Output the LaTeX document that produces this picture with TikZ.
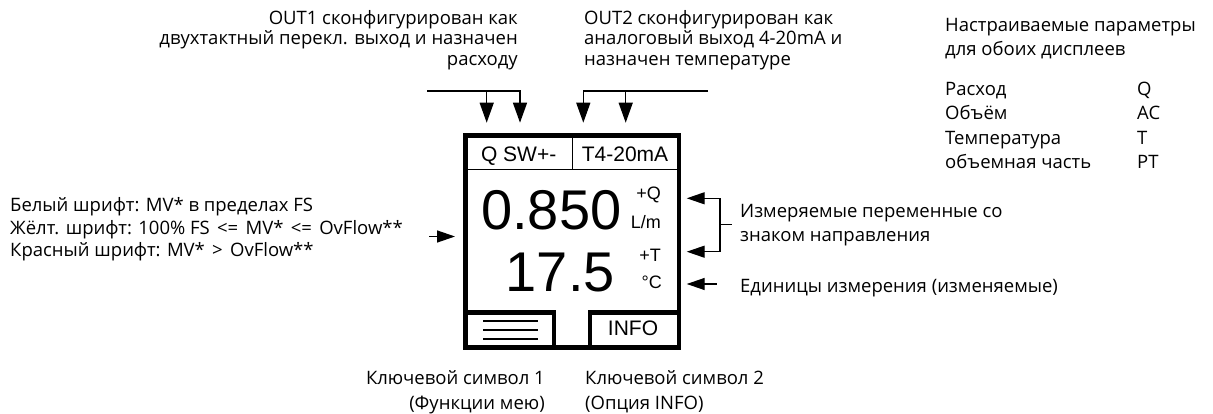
\documentclass[tikz,border=0pt]{standalone}
\usepackage{fontspec}
\setmainfont{Open Sans}
\newfontfamily\dispfont{Liberation Sans}
\usetikzlibrary{arrows.meta}
\newcommand{\opsp}{\hspace{2.5pt}}
\begin{document}
\begin{tikzpicture}[x=1pt,y=-1pt,
  ann/.style={inner sep=0pt, font=\fontsize{18.5}{24.5}\selectfont},
  anntop/.style={inner sep=0pt, font=\fontsize{18.5}{20.5}\selectfont},
  annleft/.style={inner sep=0pt, font=\fontsize{18.5}{22.7}\selectfont},
  lcd/.style={inner sep=0pt, font=\dispfont\fontsize{21}{25}\selectfont},
  lcdbig/.style={inner sep=0pt, font=\dispfont\fontsize{56}{60}\selectfont},
  lcdsmall/.style={inner sep=0pt, font=\dispfont\fontsize{18}{20}\selectfont},
  frame/.style={line width=4.8pt},
  thinline/.style={line width=1.1pt},
  bars/.style={line width=1.6pt},
  darr/.style={line width=1.3pt, -{Triangle[length=20pt,width=14pt]}},
  harr/.style={line width=1.3pt, -{Triangle[length=18pt,width=12pt]}},
  plain/.style={line width=1.3pt}
]
\useasboundingbox (0,0) rectangle (1213,414);

% ---- display frame ----
\draw[frame] (465.8,135.8) rectangle (679,347.5);
\draw[thinline] (465.8,169.3) -- (679,169.3);
\draw[thinline] (572.7,135.8) -- (572.7,169.3);
\draw[frame] (465.8,312.5) -| (554,347.5);
\draw[frame] (679,312.5) -| (590,347.5);
\draw[bars] (483.3,320.7) -- (537.7,320.7);
\draw[bars] (483.3,330) -- (537.7,330);
\draw[bars] (483.3,339) -- (537.7,339);

% ---- display texts ----
\node[lcd, anchor=base] (h1) at (518.7,162) {Q SW+-};
\node[lcd, anchor=base] (h2) at (625,162) {T4-20mA};
\node[lcdbig, anchor=base west] (v1) at (481,230) {0.850};
\node[lcdbig, anchor=base east] (v2) at (615,291.5) {17.5};
\node[lcdsmall, anchor=base east] (s1) at (661,200) {+Q};
\node[lcdsmall, anchor=base east] (s2) at (661,229) {L/m};
\node[lcdsmall, anchor=base east] (s3) at (661,261.5) {+T};
\node[lcdsmall, anchor=base east] (s4) at (662,288) {°C};
\node[lcd, anchor=base] (info) at (633,335) {INFO};

% ---- arrow end points ----
\coordinate (o1a) at (427,91);
\coordinate (o1t1) at (486.7,122.7);
\coordinate (o1t2) at (520,122.7);
\coordinate (o2a) at (708,91);
\coordinate (o2t1) at (583.3,122.7);
\coordinate (o2t2) at (625.7,122.7);
\coordinate (la) at (429,236.5);
\coordinate (lt) at (455,236.5);
\coordinate (bt) at (686.7,198.3);
\coordinate (bb) at (686.7,251.7);
\coordinate (bjt) at (720,198.3);
\coordinate (bjb) at (720,251.7);
\coordinate (bjm) at (720,224.3);
\coordinate (bst) at (731.7,224.3);
\coordinate (ua) at (716.7,284);
\coordinate (ut) at (686.7,284);

% ---- arrows ----
\draw[darr] (o1a) -| (o1t2);
\draw[darr] (o1t1 |- o1a) -- (o1t1);
\draw[darr] (o2a) -| (o2t1);
\draw[darr] (o2t2 |- o2a) -- (o2t2);
\draw[harr] (la) -- (lt);
\draw[harr] (bjt) -- (bt);
\draw[harr] (bjb) -- (bb);
\draw[plain] (bjt) -- (bjb);
\draw[plain] (bjm) -- (bst);
\draw[harr] (ua) -- (ut);

% ---- annotations (anchor = baseline of the last line) ----
\node[anntop, anchor=base east, align=right] (out1) at (518,65.5)
  {OUT1 сконфигурирован как\\двухтактный перекл. выход и назначен\\расходу};
\node[anntop, anchor=base west, align=left] (out2) at (584,65.5)
  {OUT2 сконфигурирован как\\аналоговый выход 4-20mA и\\назначен температуре};
\node[ann, anchor=base west, align=left] (par) at (945,56)
  {Настраиваемые параметры\\для обоих дисплеев};
\node[ann, anchor=base west, align=left] (names) at (945,169)
  {Расход\\Объём\\Температура\\объемная часть};
\node[ann, anchor=base west, align=left] (codes) at (1137,169)
  {Q\\AC\\T\\PT};
\node[annleft, anchor=base west, align=left] (font) at (10,257)
  {Белый шрифт: MV* в пределах FS\\Жёлт. шрифт: 100\% FS\opsp{} <=\opsp{} MV*\opsp{} <=\opsp{} OvFlow**\\Красный шрифт: MV*\opsp{} >\opsp{} OvFlow**};
\node[ann, anchor=base west, align=left] (meas) at (740,241.7)
  {Измеряемые переменные со\\знаком направления};
\node[ann, anchor=base west] (units) at (740,292)
  {Единицы измерения (изменяемые)};
\node[ann, anchor=base east, align=right] (k1) at (545,409)
  {Ключевой символ 1\\(Функции мею)};
\node[ann, anchor=base west, align=left] (k2) at (585,409)
  {Ключевой символ 2\\(Опция INFO)};
\end{tikzpicture}
\end{document}
